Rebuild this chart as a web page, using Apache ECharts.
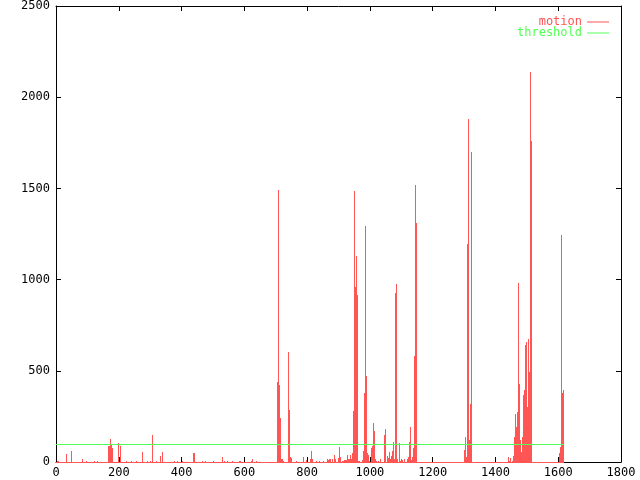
<!DOCTYPE html>
<html>
<head>
<meta charset="utf-8">
<script src="https://cdn.jsdelivr.net/npm/echarts@6/dist/echarts.min.js"></script>
<style>html,body{margin:0;padding:0;background:#fff}#c{width:640px;height:480px}</style>
</head>
<body>
<div id="c"></div>
<script>
const spikeFrames = [3,6,32,48,83,96,121,131,166,169,172,175,178,198,204,223,239,255,274,290,299,306,318,331,338,375,385,400,
437,440,465,475,500,529,535,545,561,583,586,621,624,637,
704,707,710,714,717,720,723,739,742,745,749,765,787,797,809,812,816,
829,838,850,863,866,870,873,879,886,889,898,902,905,
911,914,917,921,924,927,930,933,937,940,943,946,949,953,956,959,962,966,975,978,981,984,987,991,994,997,
1004,1007,1010,1013,1016,1020,1026,1032,1045,1048,1055,1058,1061,1064,1067,1071,1074,1077,1080,1083,1087,
1093,1096,1099,1103,1109,1118,1121,1125,1128,1131,1134,1137,1141,1144,1147,
1300,1303,1306,1309,1312,1316,1319,1322,
1440,1443,1446,1453,1456,1459,1462,1466,1469,1472,1475,1478,1482,1485,1488,1491,1494,1498,1501,1504,1507,1510,1513,
1603,1606,1609,1612,1615];
const spikeValues = [7,5,44,60,16,7,5,5,89,89,126,93,75,104,87,5,4,5,55,5,5,148,5,33,56,5,5,5,
49,49,5,5,5,27,5,5,5,7,7,8,15,5,
440,1490,420,242,18,15,8,603,285,29,22,5,27,10,15,60,15,
5,5,8,15,12,18,15,15,38,15,20,80,25,
5,8,10,10,10,36,15,15,36,18,51,279,1488,959,1132,914,5,3,10,62,376,1296,470,51,36,8,
77,88,212,171,15,5,5,18,146,182,33,20,55,15,33,62,111,18,926,977,18,
106,5,15,10,15,15,25,109,193,10,25,77,580,1520,1313,
66,138,30,1195,1880,120,320,1700,
26,5,20,5,33,138,263,193,273,981,430,120,56,138,366,394,640,658,302,675,494,2140,1762,
51,84,1242,381,394];
const firstFrame = 0;
const lastFrame = 1616;
const thresholdValue = 100;
const xTicks = [0, 1800, 200];
const yTicks = [0, 2500, 500];

const RED = '#ff5555', GREEN = '#55ff55';
const font = 'DejaVu Sans Mono';
const motionData = spikeFrames.map((f, i) => [f, spikeValues[i]]);
const floorData = [[firstFrame, lastFrame, 0]];
const thresholdData = [[firstFrame, lastFrame, thresholdValue]];

const frameAxis = (pos, labels) => ({
  type: 'value', position: pos, min: xTicks[0], max: xTicks[1], interval: xTicks[2],
  axisLine: {show: true, onZero: false, lineStyle: {color: '#000', width: 1}},
  axisTick: {show: true, inside: true, length: 5, lineStyle: {color: '#000'}},
  axisLabel: {show: labels, color: '#000', fontFamily: font, fontSize: 12, margin: 5, formatter: v => String(v)},
  splitLine: {show: false}
});
const valAxis = (pos, labels) => ({
  type: 'value', position: pos, min: yTicks[0], max: yTicks[1], interval: yTicks[2],
  axisLine: {show: true, onZero: false, lineStyle: {color: '#000', width: 1}},
  axisTick: {show: true, inside: true, length: 5, lineStyle: {color: '#000'}},
  axisLabel: {show: labels, color: '#000', fontFamily: font, fontSize: 12, margin: 6, formatter: v => String(v)},
  splitLine: {show: false}
});
const legendBase = {
  orient: 'horizontal', align: 'right', right: 31, icon: 'rect', itemWidth: 22, itemHeight: 1,
  selectedMode: false, padding: 0
};

function impulse(params, api) {
  const top = api.coord([api.value(0), api.value(1)]);
  const base = api.coord([api.value(0), 0]);
  const x = Math.round(top[0]);
  const y0 = Math.round(top[1]);
  const y1 = Math.round(base[1]) + 1;
  return {type: 'rect', shape: {x: x, y: y0, width: 1, height: Math.max(1, y1 - y0)},
          style: {fill: api.visual('color')}};
}
function hline(params, api) {
  const a = api.coord([api.value(0), api.value(2)]);
  const b = api.coord([api.value(1), api.value(2)]);
  const y = Math.round(a[1]);
  return {type: 'rect', shape: {x: Math.floor(a[0]), y: y, width: Math.round(b[0] - a[0]) + 1, height: 1},
          style: {fill: api.visual('color')}};
}

const chart = echarts.init(document.getElementById('c'), null, {renderer: 'canvas'});
chart.setOption({
  animation: false,
  backgroundColor: '#fff',
  grid: {left: 56, right: 19, top: 5, bottom: 18, containLabel: false},
  xAxis: [frameAxis('bottom', true), frameAxis('top', false)],
  yAxis: [valAxis('left', true), valAxis('right', false)],
  legend: [
    Object.assign({}, legendBase, {top: 16, data: ['motion'], textStyle: {fontFamily: font, fontSize: 12, color: RED}}),
    Object.assign({}, legendBase, {top: 27, data: ['threshold'], textStyle: {fontFamily: font, fontSize: 12, color: GREEN}})
  ],
  series: [
    {name: 'motion', type: 'custom', renderItem: hline, data: floorData, encode: {x: [0, 1], y: 2}, itemStyle: {color: RED}, z: 3, clip: false},
    {name: 'motion', type: 'custom', renderItem: impulse, data: motionData, encode: {x: 0, y: 1}, itemStyle: {color: RED}, z: 4},
    {name: 'threshold', type: 'custom', renderItem: hline, data: thresholdData, encode: {x: [0, 1], y: 2}, itemStyle: {color: GREEN}, z: 5}
  ]
});
</script>
</body>
</html>
